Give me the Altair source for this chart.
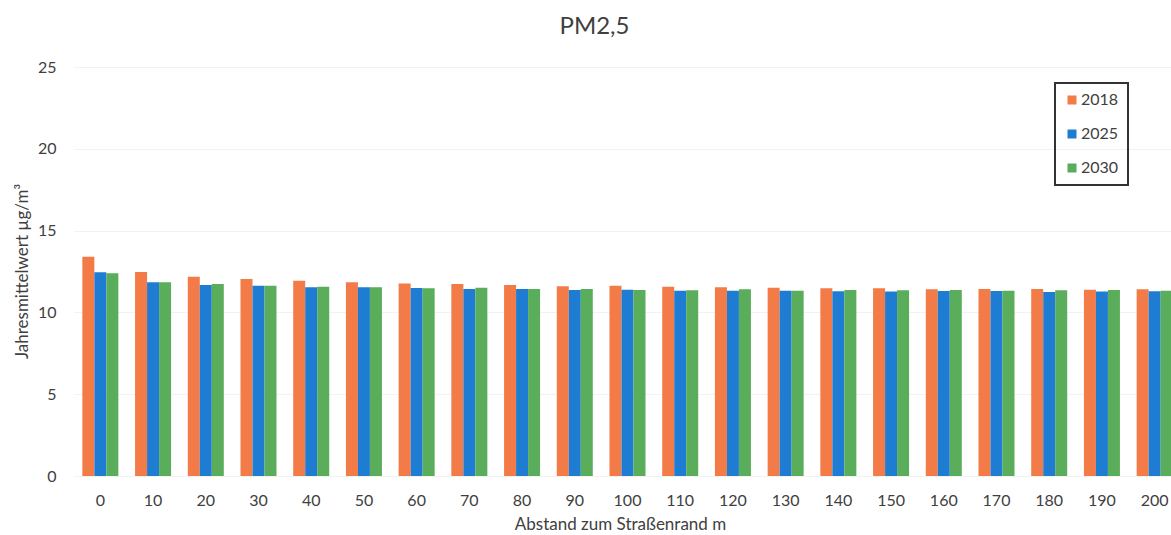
import altair as alt
import pandas as pd

distances = [0, 10, 20, 30, 40, 50, 60, 70, 80, 90, 100, 110, 120, 130, 140, 150, 160, 170, 180, 190, 200]
series_names = ["2018", "2025", "2030"]
v2018 = [13.40, 12.47, 12.18, 12.04, 11.94, 11.84, 11.76, 11.73, 11.67, 11.60, 11.63,
         11.57, 11.53, 11.51, 11.47, 11.47, 11.42, 11.43, 11.43, 11.39, 11.41]
v2025 = [12.45, 11.84, 11.67, 11.63, 11.53, 11.53, 11.49, 11.43, 11.43, 11.37, 11.39,
         11.33, 11.33, 11.33, 11.29, 11.27, 11.31, 11.31, 11.25, 11.27, 11.29]
v2030 = [12.39, 11.84, 11.74, 11.63, 11.57, 11.53, 11.47, 11.50, 11.43, 11.43, 11.37,
         11.35, 11.41, 11.33, 11.37, 11.35, 11.37, 11.33, 11.35, 11.37, 11.33]
colors = ["#F27B48", "#1E7DD2", "#5AAD5A"]

rows = []
for name, vals in zip(series_names, [v2018, v2025, v2030]):
    for d, v in zip(distances, vals):
        rows.append({"dist": str(d), "series": name, "value": v})
df = pd.DataFrame(rows)

FONT = "Lato"
LEFT, TOP, W, H = 74, 67, 1097, 409

chart = alt.Chart(df).mark_bar().encode(
    x=alt.X("dist:N", sort=[str(d) for d in distances],
            scale=alt.Scale(range=[0, 1107], paddingInner=0.317, paddingOuter=0.1585),
            axis=alt.Axis(title="Abstand zum Straßenrand m", labelAngle=0, ticks=False,
                          domain=False, labelPadding=16, labelFontSize=16,
                          labelColor="#404040", titleFontSize=17, titleColor="#404040",
                          titleFontWeight="normal", titleX=546, titleY=48,
                          titleBaseline="middle", titleAlign="center")),
    xOffset=alt.XOffset("series:N", sort=series_names,
                        scale=alt.Scale(paddingInner=0, paddingOuter=0)),
    y=alt.Y("value:Q", scale=alt.Scale(domain=[0, 25], nice=False),
            axis=alt.Axis(title="Jahresmittelwert µg/m³", values=[0, 5, 10, 15, 20, 25],
                          ticks=False, domain=False, labelPadding=18, labelFontSize=16,
                          labelColor="#404040", gridColor="#f2f2f2", titleFontSize=17,
                          titleColor="#404040", titleFontWeight="normal",
                          titleX=-52, titleY=204, titleAngle=270, titleAlign="center",
                          titleBaseline="middle")),
    color=alt.Color("series:N", sort=series_names,
                    scale=alt.Scale(domain=series_names, range=colors),
                    legend=alt.Legend(title=None, orient="none", legendX=981, legendY=16,
                                      symbolType="square", symbolSize=81,
                                      labelFontSize=16, labelColor="#404040",
                                      rowPadding=18, padding=9, labelOffset=1,
                                      strokeColor="#333333")),
).properties(
    width=W, height=H,
    title=alt.TitleParams("PM2,5", fontSize=24, font=FONT, fontWeight="normal",
                          color="#404040", anchor="middle", dx=-28, offset=20),
    autosize=alt.AutoSizeParams(type="none"),
    padding={"left": LEFT, "top": TOP, "right": 0, "bottom": 535 - TOP - H},
).configure(font=FONT).configure_view(stroke=None).configure_legend(strokeWidth=2)

chart.save("out.html", embed_options={"renderer": "svg", "actions": False})
